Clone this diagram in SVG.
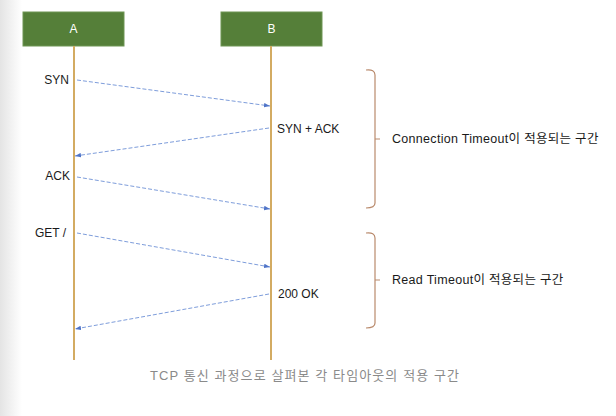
<svg xmlns="http://www.w3.org/2000/svg" width="616" height="416" viewBox="0 0 616 416">
<defs>
<linearGradient id="shade" x1="0" y1="0" x2="1" y2="0">
<stop offset="0" stop-color="#e4e4e4"/>
<stop offset="1" stop-color="#ffffff"/>
</linearGradient>
<marker id="ah" viewBox="0 0 8 6" refX="8" refY="3" markerWidth="6" markerHeight="5" orient="auto" markerUnits="userSpaceOnUse">
<path d="M0,0 L8,3 L0,6 z" fill="#4f74c8"/>
</marker>
<style>
.box{fill:#557f39;stroke:#6f9654;stroke-width:1}
.hd{font-family:"Liberation Sans","Noto Sans",sans-serif;font-size:12px;fill:#ffffff;text-anchor:middle}
.life{stroke:#d3ab62;stroke-width:2;fill:none}
.msg{stroke:#7e9ddb;stroke-width:1;stroke-dasharray:4,2;fill:none;marker-end:url(#ah)}
.lbl{font-family:"Liberation Sans","Noto Sans",sans-serif;font-size:12px;fill:#1a1a1a}
.kr{font-family:"Liberation Sans","Noto Sans CJK KR",sans-serif;font-size:12.5px;letter-spacing:0.3px;fill:#1a1a1a}
.brace{stroke:#b98a6c;stroke-width:1.2;fill:none}
.cap{font-family:"Liberation Sans","Noto Sans CJK KR",sans-serif;font-size:13px;letter-spacing:1.1px;fill:#8a8a8a;text-anchor:middle}
</style>
</defs>
<rect x="0" y="0" width="616" height="416" fill="#ffffff"/>
<rect x="0" y="0" width="22" height="416" fill="url(#shade)"/>
<g id="nodeA">
<rect class="box" x="23" y="12" width="101" height="34"/>
<text class="hd" x="73.5" y="33">A</text>
<line class="life" x1="74" y1="46" x2="74" y2="360"/>
</g>
<g id="nodeB">
<rect class="box" x="221" y="12" width="101" height="34"/>
<text class="hd" x="271.5" y="33">B</text>
<line class="life" x1="271" y1="46" x2="271" y2="360"/>
</g>
<g id="connectors">
<line class="msg" x1="77" y1="80" x2="270" y2="106"/>
<line class="msg" x1="269" y1="128" x2="75" y2="156"/>
<line class="msg" x1="77" y1="177" x2="270" y2="209"/>
<line class="msg" x1="77" y1="233" x2="270" y2="267"/>
<line class="msg" x1="269" y1="294" x2="75" y2="329"/>
</g>
<g id="labels">
<text class="lbl" x="69" y="84" text-anchor="end">SYN</text>
<text class="lbl" x="277" y="133">SYN + ACK</text>
<text class="lbl" x="70" y="180" text-anchor="end">ACK</text>
<text class="lbl" x="66" y="237" text-anchor="end">GET /</text>
<text class="lbl" x="278" y="298">200 OK</text>
</g>
<g id="connectTimeout">
<path class="brace" d="M366,70 Q375,69 375,75 L375,203 Q375,208 366,208 M375,139 L380,139"/>
<text class="kr" x="392" y="143">Connection Timeout이 적용되는 구간</text>
</g>
<g id="readTimeout">
<path class="brace" d="M366,233 Q375,232 375,238 L375,323 Q375,328 366,328 M375,280 L380,280"/>
<text class="kr" x="392" y="284">Read Timeout이 적용되는 구간</text>
</g>
<text class="cap" x="305" y="380">TCP 통신 과정으로 살펴본 각 타임아웃의 적용 구간</text>
</svg>
